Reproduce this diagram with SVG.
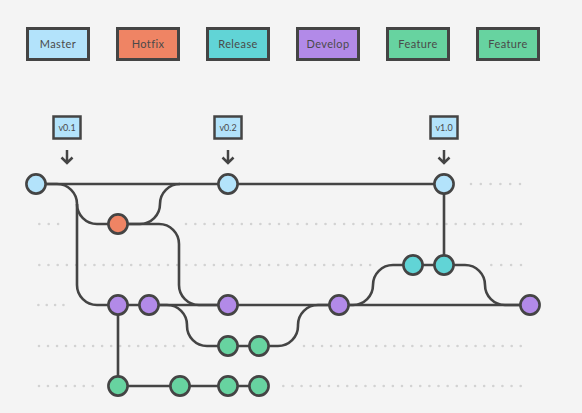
<svg xmlns="http://www.w3.org/2000/svg" width="582" height="413" viewBox="0 0 582 413">
<style>
.lg{stroke:#444;stroke-width:3}
.lt{font-family:Lato,"Noto Sans",sans-serif;font-size:11px;fill:#4a4a4a;text-anchor:middle;letter-spacing:0.4px}
.tg{fill:#b3e3fb;stroke:#444;stroke-width:2.5}
.tt{font-family:Lato,"Noto Sans",sans-serif;font-size:9px;fill:#4a4a4a;text-anchor:middle}
.ar{fill:none;stroke:#444;stroke-width:2.5}
.c{fill:none;stroke:#444;stroke-width:2.6}
.n{stroke:#444;stroke-width:2.6}
.d{stroke:#d2d2d2;stroke-width:2.6;stroke-linecap:round;fill:none}
.ma{fill:#b3e3fb}.hf{fill:#ef8464}.re{fill:#61d4d6}.dv{fill:#b28ae8}.fe{fill:#67d3a0}
</style>
<rect width="582" height="413" fill="#f4f4f4"/>
<g id="legend">
<g id="legend-master"><rect class="lg ma" x="27.5" y="28.5" width="61" height="31"/><text class="lt" x="58" y="48">Master</text></g>
<g id="legend-hotfix"><rect class="lg hf" x="117.5" y="28.5" width="61" height="31"/><text class="lt" x="148" y="48">Hotfix</text></g>
<g id="legend-release"><rect class="lg re" x="207.5" y="28.5" width="61" height="31"/><text class="lt" x="238" y="48">Release</text></g>
<g id="legend-develop"><rect class="lg dv" x="297.5" y="28.5" width="61" height="31"/><text class="lt" x="328" y="48">Develop</text></g>
<g id="legend-feature1"><rect class="lg fe" x="387.5" y="28.5" width="61" height="31"/><text class="lt" x="418" y="48">Feature</text></g>
<g id="legend-feature2"><rect class="lg fe" x="477.5" y="28.5" width="61" height="31"/><text class="lt" x="508" y="48">Feature</text></g>
</g>
<g id="dots">
<path class="d" stroke-dasharray="0 9.8" d="M471,184H521"/>
<path class="d" stroke-dasharray="0 9.4" d="M39.3,224H58.2"/>
<path class="d" stroke-dasharray="0 9.3" d="M186,224H521"/>
<path class="d" stroke-dasharray="0 9.19" d="M39.3,265H370.2"/>
<path class="d" stroke-dasharray="0 9.9" d="M491.3,265H521"/>
<path class="d" stroke-dasharray="0 8.35" d="M38.4,305H63.5"/>
<path class="d" stroke-dasharray="0 9.02" d="M39,346H183.4"/>
<path class="d" stroke-dasharray="0 9.03" d="M304,346H520.8"/>
<path class="d" stroke-dasharray="0 8.95" d="M39,386H92.8"/>
<path class="d" stroke-dasharray="0 9.13" d="M283.3,386H520.8"/>
</g>
<g id="tags">
<g id="tag-v01"><rect class="tg" x="53.5" y="116.5" width="27" height="22"/><text class="tt" x="67" y="131">v0.1</text><path class="ar" d="M67,150V163M61.5,157.5L67,163L72.5,157.5"/></g>
<g id="tag-v02"><rect class="tg" x="214.5" y="116.5" width="27" height="22"/><text class="tt" x="228" y="131">v0.2</text><path class="ar" d="M228,150V163M222.5,157.5L228,163L233.5,157.5"/></g>
<g id="tag-v10"><rect class="tg" x="430.5" y="116.5" width="27" height="22"/><text class="tt" x="444" y="131">v1.0</text><path class="ar" d="M444,150V163M438.5,157.5L444,163L449.5,157.5"/></g>
</g>
<g id="connectors">
<path class="c" d="M36,184H444"/>
<path class="c" d="M36,184H57A20,20 0 0 1 77,204V285A20,20 0 0 0 97,305H118"/>
<path class="c" d="M77,204A20,20 0 0 0 97,224H118"/>
<path class="c" d="M118,224H140A20,20 0 0 0 160,204A20,20 0 0 1 180,184"/>
<path class="c" d="M118,224H159A20,20 0 0 1 179,244V285A20,20 0 0 0 199,305H228"/>
<path class="c" d="M118,305H530"/>
<path class="c" d="M118,305V386H259"/>
<path class="c" d="M149,305H167A20,20 0 0 1 187,325V326A20,20 0 0 0 207,346H259"/>
<path class="c" d="M259,346H278A20,20 0 0 0 298,326V325A20,20 0 0 1 318,305H339"/>
<path class="c" d="M339,305H353A20,20 0 0 0 373,285A20,20 0 0 1 393,265H444"/>
<path class="c" d="M444,265V184"/>
<path class="c" d="M444,265H465A20,20 0 0 1 485,285A20,20 0 0 0 505,305H530"/>
</g>
<g id="master-nodes">
<circle id="m1" class="n ma" cx="36" cy="184" r="9.6"/>
<circle id="m2" class="n ma" cx="228" cy="184" r="9.6"/>
<circle id="m3" class="n ma" cx="444" cy="184" r="9.6"/>
</g>
<g id="hotfix-nodes">
<circle id="h1" class="n hf" cx="118" cy="224" r="9.6"/>
</g>
<g id="release-nodes">
<circle id="r1" class="n re" cx="413" cy="265" r="9.6"/>
<circle id="r2" class="n re" cx="444" cy="265" r="9.6"/>
</g>
<g id="develop-nodes">
<circle id="d1" class="n dv" cx="118" cy="305" r="9.6"/>
<circle id="d2" class="n dv" cx="149" cy="305" r="9.6"/>
<circle id="d3" class="n dv" cx="228" cy="305" r="9.6"/>
<circle id="d4" class="n dv" cx="339" cy="305" r="9.6"/>
<circle id="d5" class="n dv" cx="530" cy="305" r="9.6"/>
</g>
<g id="feature1-nodes">
<circle id="f1a" class="n fe" cx="228" cy="346" r="9.6"/>
<circle id="f1b" class="n fe" cx="259" cy="346" r="9.6"/>
</g>
<g id="feature2-nodes">
<circle id="f2a" class="n fe" cx="118" cy="386" r="9.6"/>
<circle id="f2b" class="n fe" cx="180" cy="386" r="9.6"/>
<circle id="f2c" class="n fe" cx="228" cy="386" r="9.6"/>
<circle id="f2d" class="n fe" cx="259" cy="386" r="9.6"/>
</g>
</svg>
